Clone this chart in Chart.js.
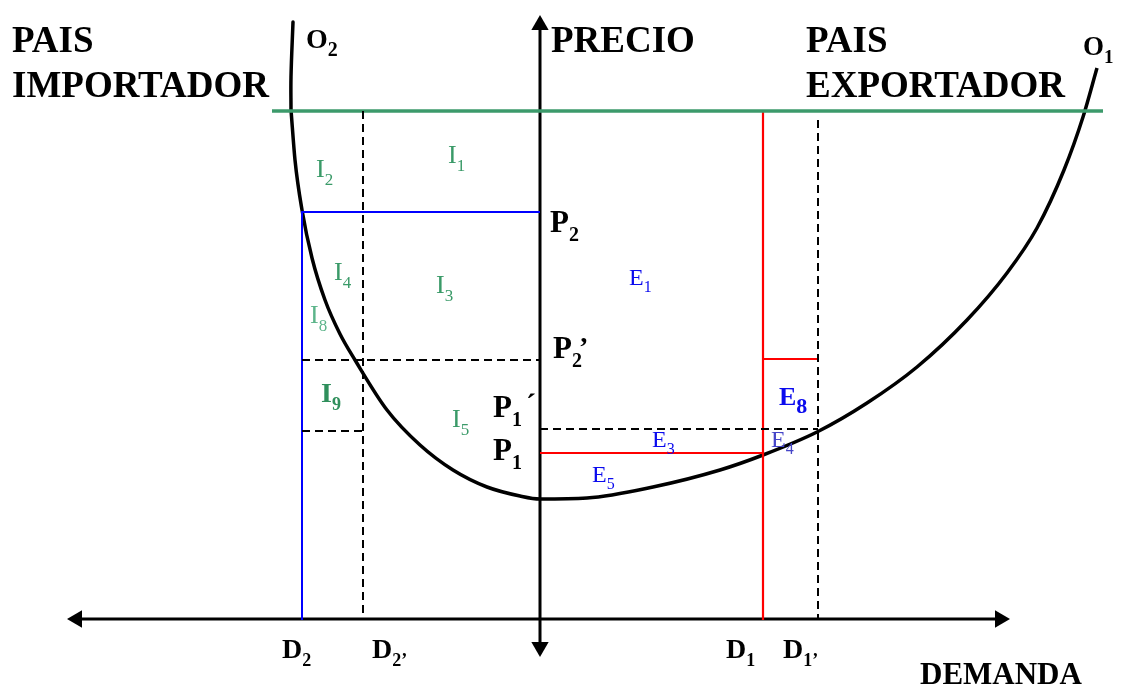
<!DOCTYPE html>
<html>
<head>
<meta charset="utf-8">
<script src="https://cdn.jsdelivr.net/npm/chart.js@4/dist/chart.umd.min.js"></script>
<style>
  html, body { margin: 0; padding: 0; background: #fff; overflow: hidden; }
  /* the arrow points make Chart.js keep 10px free round the plot, so the canvas is pushed out by that much */
  #wrap { width: 1141px; height: 706px; position: absolute; left: -10px; top: -10px; }
</style>
</head>
<body>
<div id="wrap"><canvas id="diagrama"></canvas></div>
<script>
// curva de oferta O2, tramo de arriba (casi vertical)
const curvaAltaX = [293, 291, 291];
const curvaAltaY = [22, 77, 110];

// resto de la curva, de O2 al minimo y subiendo hasta O1
const curvaX = [291, 295, 302, 312, 325, 340, 355, 387, 420, 453, 487, 520, 540, 587, 653, 720, 763, 817, 867, 917, 967, 1007, 1037, 1064, 1083, 1097];
const curvaY = [110, 160, 210, 258, 300, 334, 360, 410, 445, 470, 487, 496, 499, 498, 487, 470, 455, 432, 403, 367, 320, 273, 228, 170, 117, 68];

// precio mundial (linea verde)
const verdeX = [272, 1103];
const verdeY = [111, 111];

// pais importador: D2 y P2 (azul)
const azulX = [302, 302, 540];
const azulY = [620, 212, 212];

// pais exportador: D1 y P1 (rojo)
const rojoX = [763, 763, null, 540, 763, null, 763, 818];
const rojoY = [111, 620, null, 453, 453, null, 359, 359];

// lineas auxiliares punteadas (D2', D1', P2', P1')
const punteadoX = [363, 363, null, 818, 818, null, 302, 540, null, 302, 363, null, 540, 818];
const punteadoY = [111, 620, null, 120, 620, null, 360, 360, null, 431, 431, null, 429, 429];

// ejes (demanda horizontal, precio vertical)
const ejeDemandaX = [77, 1000];
const ejeDemandaY = [619, 619];
const ejePrecioX = [540, 540];
const ejePrecioY = [25, 647];

const pts = (xs, ys) => xs.map((x, i) => ({ x: x, y: ys[i] }));

const serif = '"Liberation Serif", "Times New Roman", serif';
const verde = "#3a9a68";
const azulTxt = "#0a0aee";

const etiquetas = [
    { t: "PAIS", x: 12, y: 52, s: 37, b: true, c: "#000" },
    { t: "IMPORTADOR", x: 12, y: 97, s: 37, b: true, c: "#000" },
    { t: "PRECIO", x: 551, y: 52, s: 37, b: true, c: "#000" },
    { t: "PAIS", x: 806, y: 52, s: 37, b: true, c: "#000" },
    { t: "EXPORTADOR", x: 806, y: 97, s: 37, b: true, c: "#000" },
    { t: "O", sub: "2", x: 306, y: 48, s: 28, b: true, c: "#000", subScale: 0.72 },
    { t: "O", sub: "1", x: 1083, y: 55, s: 27, b: true, c: "#000", subScale: 0.7 },
    { t: "I", sub: "1", x: 448, y: 163, s: 26, c: verde },
    { t: "I", sub: "2", x: 316, y: 177, s: 26, c: verde },
    { t: "I", sub: "4", x: 334, y: 280, s: 26, c: verde },
    { t: "I", sub: "3", x: 436, y: 293, s: 26, c: verde },
    { t: "I", sub: "8", x: 310, y: 323, s: 26, c: "#5cb48a" },
    { t: "I", sub: "9", x: 321, y: 402, s: 28, b: true, c: "#2f8f5c" },
    { t: "I", sub: "5", x: 452, y: 427, s: 26, c: verde },
    { t: "P", sub: "2", x: 550, y: 232, s: 31, b: true, c: "#000" },
    { t: "P", sub: "2", x: 553, y: 358, s: 31, b: true, c: "#000" },
    { t: "\u2019", x: 579, y: 356, s: 28, b: true, c: "#000" },
    { t: "P", sub: "1", x: 493, y: 417, s: 31, b: true, c: "#000" },
    { t: "\u00b4", x: 526, y: 414, s: 30, b: true, c: "#000" },
    { t: "P", sub: "1", x: 493, y: 460, s: 31, b: true, c: "#000" },
    { t: "E", sub: "1", x: 629, y: 285, s: 24, c: azulTxt },
    { t: "E", sub: "3", x: 652, y: 447, s: 24, c: azulTxt },
    { t: "E", sub: "5", x: 592, y: 482, s: 24, c: azulTxt },
    { t: "E", sub: "8", x: 779, y: 405, s: 26, b: true, c: azulTxt, subScale: 0.85 },
    { t: "E", sub: "4", x: 771, y: 447, s: 24, c: "#4545c8" },
    { t: "D", sub: "2", x: 282, y: 658, s: 28, b: true, c: "#000" },
    { t: "D", sub: "2\u2019", x: 372, y: 658, s: 28, b: true, c: "#000" },
    { t: "D", sub: "1", x: 726, y: 658, s: 28, b: true, c: "#000" },
    { t: "D", sub: "1\u2019", x: 783, y: 658, s: 28, b: true, c: "#000" },
    { t: "DEMANDA", x: 920, y: 684, s: 31, b: true, c: "#000" }
];

const textos = {
    id: "textos",
    afterDatasetsDraw(chart) {
        const ctx = chart.ctx;
        const sx = chart.scales.x, sy = chart.scales.y;
        ctx.save();
        ctx.textBaseline = "alphabetic";
        ctx.textAlign = "left";
        etiquetas.forEach(e => {
            const px = sx.getPixelForValue(e.x);
            const py = sy.getPixelForValue(e.y);
            ctx.fillStyle = e.c;
            ctx.font = (e.b ? "bold " : "") + e.s + "px " + serif;
            ctx.fillText(e.t, px, py);
            if (e.sub) {
                const w = ctx.measureText(e.t).width;
                const ss = Math.round(e.s * (e.subScale || 0.66));
                ctx.font = (e.b ? "bold " : "") + ss + "px " + serif;
                ctx.fillText(e.sub, px + w, py + e.s * 0.3);
            }
        });
        ctx.restore();
    }
};

const linea = (xs, ys, color, width, dash) => ({
    data: pts(xs, ys),
    showLine: true,
    borderColor: color,
    borderWidth: width,
    borderDash: dash || [],
    pointRadius: 0,
    spanGaps: false,
    tension: 0
});

const eje = (xs, ys, giro) => ({
    data: pts(xs, ys),
    showLine: true,
    borderColor: "#000",
    borderWidth: 3,
    pointStyle: "triangle",
    pointRadius: 10,
    pointBorderWidth: 0,
    pointBackgroundColor: "#000",
    pointRotation: giro
});

new Chart(document.getElementById("diagrama"), {
    type: "scatter",
    data: {
        datasets: [
            linea(punteadoX, punteadoY, "#000", 2, [8, 5]),
            linea(verdeX, verdeY, "#3c9a6b", 3.5),
            linea(azulX, azulY, "#0000ff", 2),
            linea(rojoX, rojoY, "#ff0000", 2.2),
            eje(ejeDemandaX, ejeDemandaY, [-90, 90]),
            eje(ejePrecioX, ejePrecioY, [0, 180]),
            {
                data: pts(curvaAltaX, curvaAltaY),
                showLine: true,
                borderColor: "#000",
                borderWidth: 3.5,
                borderCapStyle: "round",
                pointRadius: 0,
                tension: 0.4
            },
            {
                data: pts(curvaX, curvaY),
                showLine: true,
                borderColor: "#000",
                borderWidth: 3.5,
                pointRadius: 0,
                cubicInterpolationMode: "monotone"
            }
        ]
    },
    options: {
        responsive: true,
        maintainAspectRatio: false,
        animation: false,
        layout: { padding: 10 },
        plugins: {
            legend: { display: false },
            tooltip: { enabled: false }
        },
        scales: {
            x: { type: "linear", min: 0, max: 1121, display: false },
            y: { type: "linear", min: 0, max: 686, reverse: true, display: false }
        }
    },
    plugins: [textos]
});
</script>
</body>
</html>
